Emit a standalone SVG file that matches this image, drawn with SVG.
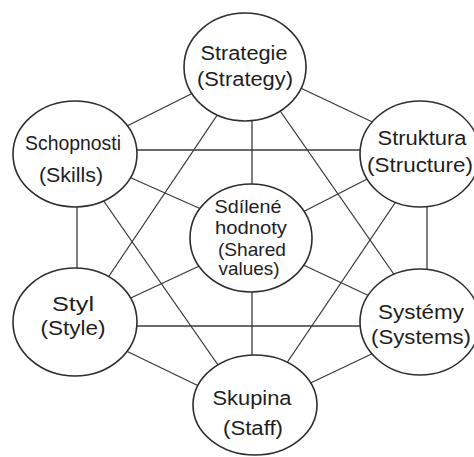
<svg xmlns="http://www.w3.org/2000/svg" width="474" height="457" viewBox="0 0 474 457">
<style>
.bg{fill:#ffffff}
.conn line{stroke:#3a3a3a;stroke-width:1.3;fill:none}
.node ellipse{fill:#ffffff;stroke:#2e2e2e;stroke-width:1.6}
.node text{font-family:"Liberation Sans",Arial,sans-serif;font-size:20px;fill:#1e1e1e;text-anchor:middle}
#n-shared text{font-size:18.5px}
</style>
<rect class="bg" x="0" y="0" width="474" height="457"/>
<g id="connectors" class="conn">
<line x1="205" y1="87" x2="115" y2="132"/>
<line x1="290" y1="83" x2="383" y2="127"/>
<line x1="252" y1="110" x2="252" y2="195"/>
<line x1="224" y1="105" x2="103" y2="285"/>
<line x1="276" y1="105" x2="400" y2="283"/>
<line x1="130" y1="150" x2="365" y2="150"/>
<line x1="120" y1="173" x2="210" y2="213"/>
<line x1="77" y1="200" x2="77" y2="275"/>
<line x1="103" y1="200" x2="225" y2="375"/>
<line x1="375" y1="175" x2="295" y2="216"/>
<line x1="427" y1="200" x2="427" y2="275"/>
<line x1="397" y1="200" x2="280" y2="373"/>
<line x1="120" y1="303" x2="210" y2="261"/>
<line x1="130" y1="326" x2="365" y2="326"/>
<line x1="118" y1="347" x2="207" y2="390"/>
<line x1="297" y1="262" x2="378" y2="300"/>
<line x1="380" y1="350" x2="300" y2="388"/>
<line x1="252" y1="285" x2="252" y2="360"/>
</g>
<g id="n-strategy" class="node">
<ellipse cx="245" cy="67" rx="61" ry="54"/>
<text x="244" y="60" textLength="87" lengthAdjust="spacingAndGlyphs">Strategie</text>
<text x="245" y="86" textLength="96" lengthAdjust="spacingAndGlyphs">(Strategy)</text>
</g>
<g id="n-skills" class="node">
<ellipse cx="75" cy="154" rx="62" ry="53"/>
<text x="73" y="150" textLength="96" lengthAdjust="spacingAndGlyphs">Schopnosti</text>
<text x="71" y="182" textLength="64" lengthAdjust="spacingAndGlyphs">(Skills)</text>
</g>
<g id="n-structure" class="node">
<ellipse cx="420" cy="154" rx="60" ry="53"/>
<text x="422" y="145" textLength="89" lengthAdjust="spacingAndGlyphs">Struktura</text>
<text x="420" y="172" textLength="106" lengthAdjust="spacingAndGlyphs">(Structure)</text>
</g>
<g id="n-shared" class="node">
<ellipse cx="251" cy="238" rx="61" ry="54"/>
<text x="248" y="213" textLength="67" lengthAdjust="spacingAndGlyphs">Sdílené</text>
<text x="251" y="234" textLength="72" lengthAdjust="spacingAndGlyphs">hodnoty</text>
<text x="252" y="256" textLength="68" lengthAdjust="spacingAndGlyphs">(Shared</text>
<text x="249" y="275" textLength="61" lengthAdjust="spacingAndGlyphs">values)</text>
</g>
<g id="n-style" class="node">
<ellipse cx="75" cy="322" rx="62" ry="54"/>
<text x="73" y="311" textLength="42" lengthAdjust="spacingAndGlyphs">Styl</text>
<text x="73" y="335" textLength="65" lengthAdjust="spacingAndGlyphs">(Style)</text>
</g>
<g id="n-systems" class="node">
<ellipse cx="420" cy="322" rx="60" ry="53"/>
<text x="421" y="319" textLength="86" lengthAdjust="spacingAndGlyphs">Systémy</text>
<text x="421" y="344" textLength="100" lengthAdjust="spacingAndGlyphs">(Systems)</text>
</g>
<g id="n-staff" class="node">
<ellipse cx="255" cy="405" rx="62" ry="50"/>
<text x="252" y="405" textLength="79" lengthAdjust="spacingAndGlyphs">Skupina</text>
<text x="253" y="435" textLength="60" lengthAdjust="spacingAndGlyphs">(Staff)</text>
</g>
</svg>
